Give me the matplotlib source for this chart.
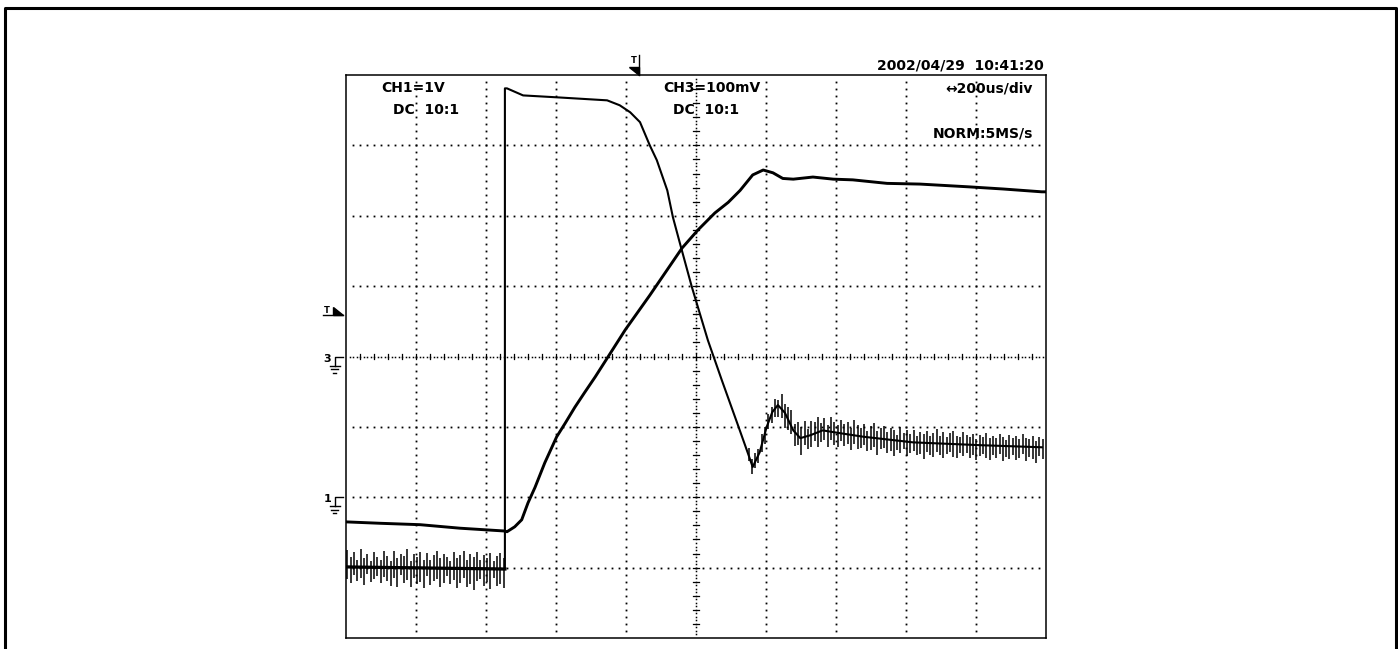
import numpy as np
import matplotlib
matplotlib.use("Agg")
from matplotlib import pyplot as plt
from matplotlib.lines import Line2D
from matplotlib.patches import Polygon

# screen: 10 x 8 divisions, values in divisions
ch1_x = [0.00, 2.27, 2.27, 2.30, 2.53, 3.06, 3.73, 3.91, 4.06, 4.20, 4.34, 4.44, 4.59, 4.67,
         4.77, 4.94, 5.17, 5.37, 5.59, 5.74, 5.81, 5.91, 6.01, 6.09, 6.17, 6.27, 6.39, 6.49,
         6.63, 6.81, 7.06, 7.39, 8.10, 9.06, 9.94]
ch1_y = [1.01, 0.98, 7.81, 7.81, 7.71, 7.68, 7.64, 7.57, 7.47, 7.33, 7.00, 6.79, 6.36, 5.98,
         5.61, 4.99, 4.23, 3.66, 3.05, 2.63, 2.43, 2.64, 3.00, 3.21, 3.31, 3.20, 2.95, 2.84,
         2.88, 2.95, 2.91, 2.86, 2.78, 2.74, 2.71]

ch3_x = [0.00, 0.49, 1.06, 1.63, 2.27, 2.30, 2.41, 2.51, 2.60, 2.70, 2.84, 3.01, 3.13, 3.27,
         3.41, 3.56, 3.74, 3.99, 4.34, 4.80, 5.03, 5.27, 5.46, 5.63, 5.81, 5.96, 6.10, 6.24,
         6.39, 6.67, 6.96, 7.24, 7.73, 8.20, 8.91, 9.39, 9.94, 10.0]
ch3_y = [1.65, 1.63, 1.61, 1.56, 1.52, 1.51, 1.58, 1.68, 1.92, 2.14, 2.49, 2.86, 3.05, 3.28,
         3.49, 3.71, 3.99, 4.38, 4.87, 5.54, 5.80, 6.04, 6.19, 6.36, 6.58, 6.65, 6.61, 6.53,
         6.52, 6.55, 6.52, 6.51, 6.46, 6.45, 6.41, 6.38, 6.34, 6.34]

# noise spikes on CH1 (extent above / below the trace, divisions)
left_top = [0.24, 0.14, 0.21, 0.10, 0.26, 0.13, 0.19, 0.09, 0.22, 0.15, 0.11, 0.23, 0.17, 0.09, 0.24, 0.14,
            0.20, 0.16, 0.26, 0.10, 0.19, 0.15, 0.23, 0.12, 0.21, 0.11, 0.18, 0.24, 0.14, 0.20, 0.16, 0.10,
            0.23, 0.15, 0.19, 0.25, 0.12, 0.21, 0.17, 0.24, 0.13, 0.20, 0.16, 0.22, 0.11, 0.19, 0.23, 0.15]
left_bot = [0.17, 0.23, 0.11, 0.20, 0.15, 0.25, 0.10, 0.21, 0.16, 0.12, 0.22, 0.14, 0.19, 0.26, 0.15, 0.28,
            0.11, 0.22, 0.17, 0.27, 0.14, 0.23, 0.20, 0.29, 0.12, 0.24, 0.18, 0.15, 0.27, 0.21, 0.11, 0.23,
            0.16, 0.28, 0.20, 0.14, 0.26, 0.22, 0.30, 0.18, 0.15, 0.25, 0.19, 0.28, 0.13, 0.24, 0.21, 0.27]
tail_top = [0.10, 0.07, 0.13, 0.09, 0.15, 0.08, 0.12, 0.10, 0.14, 0.08,
            0.22, 0.12, 0.18, 0.24, 0.11, 0.20, 0.15, 0.23, 0.10, 0.19,
            0.16, 0.22, 0.12, 0.18, 0.09, 0.21, 0.15, 0.11, 0.19, 0.14,
            0.17, 0.10, 0.22, 0.15, 0.12, 0.18, 0.09, 0.16, 0.21, 0.11,
            0.15, 0.18, 0.10, 0.17, 0.14, 0.08, 0.20, 0.12, 0.16, 0.11,
            0.18, 0.09, 0.15, 0.12, 0.17, 0.10, 0.14, 0.20, 0.11, 0.16,
            0.09, 0.15, 0.18, 0.12, 0.10, 0.17, 0.14, 0.11, 0.16, 0.09,
            0.15, 0.12, 0.18, 0.10, 0.14, 0.11, 0.17, 0.13, 0.09, 0.16,
            0.12, 0.15, 0.10, 0.18, 0.13, 0.11, 0.16, 0.09, 0.14, 0.12]
tail_bot = [0.09, 0.13, 0.08, 0.12, 0.10, 0.15, 0.09, 0.13, 0.11, 0.16,
            0.13, 0.22, 0.15, 0.11, 0.20, 0.14, 0.24, 0.12, 0.19, 0.17,
            0.11, 0.21, 0.16, 0.13, 0.23, 0.12, 0.18, 0.20, 0.11, 0.17,
            0.14, 0.21, 0.12, 0.19, 0.16, 0.11, 0.20, 0.17, 0.13, 0.23,
            0.15, 0.12, 0.19, 0.16, 0.22, 0.13, 0.17, 0.11, 0.20, 0.15,
            0.12, 0.18, 0.16, 0.23, 0.13, 0.17, 0.19, 0.12, 0.16, 0.21,
            0.15, 0.11, 0.18, 0.20, 0.13, 0.17, 0.12, 0.19, 0.15, 0.22,
            0.16, 0.13, 0.18, 0.20, 0.14, 0.17, 0.12, 0.21, 0.15, 0.18,
            0.13, 0.19, 0.16, 0.11, 0.20, 0.14, 0.17, 0.22, 0.13, 0.16]
left_span = (0.02, 2.25)
tail_span = (5.75, 9.95)

trig_time = 4.19
trig_level = 4.59
gnd_ch3 = 4.0
gnd_ch1 = 2.0

header = "2002/04/29  10:41:20"

W, H = 1398, 649
fig = plt.figure(figsize=(W / 100, H / 100), dpi=100)
ax = fig.add_axes([346 / W, 11 / H, 700 / W, 563 / H])
ax.set_xlim(0, 10)
ax.set_ylim(0, 8)
ax.set_xticks([])
ax.set_yticks([])
for s in ax.spines.values():
    s.set_linewidth(1.1)
    s.set_color("black")

# outer border
fig.add_artist(Line2D([5 / W, 5 / W, 1396 / W, 1396 / W], [0, 1 - 8 / H, 1 - 8 / H, 0],
                      transform=fig.transFigure, color="black", lw=2.2))

# dotted graticule
dots = np.arange(0.1, 8.0, 0.1)
for gx in [1, 2, 3, 4, 6, 7, 8, 9]:
    ax.plot(np.full_like(dots, gx), dots, ls="none", marker="s", ms=1.3, mew=0, color="black")
dots = np.arange(0.1, 10.0, 0.1)
for gy in [1, 2, 3, 5, 6, 7]:
    ax.plot(dots, np.full_like(dots, gy), ls="none", marker="s", ms=1.3, mew=0, color="black")
# centre lines with minor ticks
fine = np.arange(0.05, 8.0, 0.05)
ax.plot(np.full_like(fine, 5), fine, ls="none", marker="s", ms=1.1, mew=0, color="black")
fine = np.arange(0.05, 10.0, 0.05)
ax.plot(fine, np.full_like(fine, 4), ls="none", marker="s", ms=1.1, mew=0, color="black")
for t in np.arange(0.2, 8.0, 0.2):
    ax.plot([4.955, 5.045], [t, t], color="black", lw=0.9)
for t in np.arange(0.2, 10.0, 0.2):
    ax.plot([t, t], [3.96, 4.04], color="black", lw=0.9)

# traces
ax.plot(ch3_x, ch3_y, color="black", lw=2.1, solid_joinstyle="round")
ax.plot(ch1_x, ch1_y, color="black", lw=1.5, solid_joinstyle="round")
ax.plot(ch1_x[:2], ch1_y[:2], color="black", lw=2.3)

# noise spikes: before the step and after the ringing
sx = np.linspace(left_span[0], left_span[1], len(left_top))
base = np.interp(sx, ch1_x[:2], ch1_y[:2])
ax.vlines(sx, base - np.array(left_bot), base + np.array(left_top), color="black", lw=1.1)
sx = np.linspace(tail_span[0], tail_span[1], len(tail_top))
base = np.interp(sx, ch1_x[3:], ch1_y[3:])
ax.vlines(sx, base - np.array(tail_bot), base + np.array(tail_top), color="black", lw=1.1)

# text
fk = dict(family="DejaVu Sans", weight="bold", fontsize=10, color="black", va="center")
ax.text(0.51, 7.81, "CH1=1V", ha="left", **fk)
ax.text(0.67, 7.50, "DC  10:1", ha="left", **fk)
ax.text(4.53, 7.81, "CH3=100mV", ha="left", **fk)
ax.text(4.67, 7.50, "DC  10:1", ha="left", **fk)
ax.text(9.81, 7.81, "\u2194200us/div", ha="right", **fk)
ax.text(9.81, 7.17, "NORM:5MS/s", ha="right", **fk)
ax.text(9.97, 8.14, header, ha="right", clip_on=False, **fk)

# trigger marker (top)
ax.add_line(Line2D([trig_time, trig_time], [8.0, 8.28], color="black", lw=1.0, clip_on=False))
ax.add_patch(Polygon([[trig_time - 0.15, 8.11], [trig_time, 8.11], [trig_time, 8.0]],
                     closed=True, color="black", clip_on=False))
ax.text(trig_time - 0.085, 8.21, "T", ha="center", va="center", fontsize=6, weight="bold",
        clip_on=False)

# trigger level marker (left)
ax.add_line(Line2D([-0.33, -0.04], [trig_level, trig_level], color="black", lw=1.0, clip_on=False))
ax.add_patch(Polygon([[-0.19, trig_level + 0.11], [-0.19, trig_level], [-0.04, trig_level]],
                     closed=True, color="black", clip_on=False))
ax.text(-0.27, trig_level + 0.06, "T", ha="center", va="center", fontsize=6, weight="bold",
        clip_on=False)

# ground markers
for gy, lab in [(gnd_ch3, "3"), (gnd_ch1, "1")]:
    ax.add_line(Line2D([-0.04, -0.16, -0.16], [gy, gy, gy - 0.13], color="black", lw=1.0,
                       clip_on=False))
    ax.add_line(Line2D([-0.23, -0.09], [gy - 0.13, gy - 0.13], color="black", lw=1.0, clip_on=False))
    ax.add_line(Line2D([-0.21, -0.11], [gy - 0.18, gy - 0.18], color="black", lw=1.0, clip_on=False))
    ax.add_line(Line2D([-0.18, -0.14], [gy - 0.23, gy - 0.23], color="black", lw=1.0, clip_on=False))
    ax.text(-0.27, gy - 0.03, lab, ha="center", va="center", fontsize=8, weight="bold",
            clip_on=False)

fig.savefig("out.png", dpi=100, facecolor="white")
